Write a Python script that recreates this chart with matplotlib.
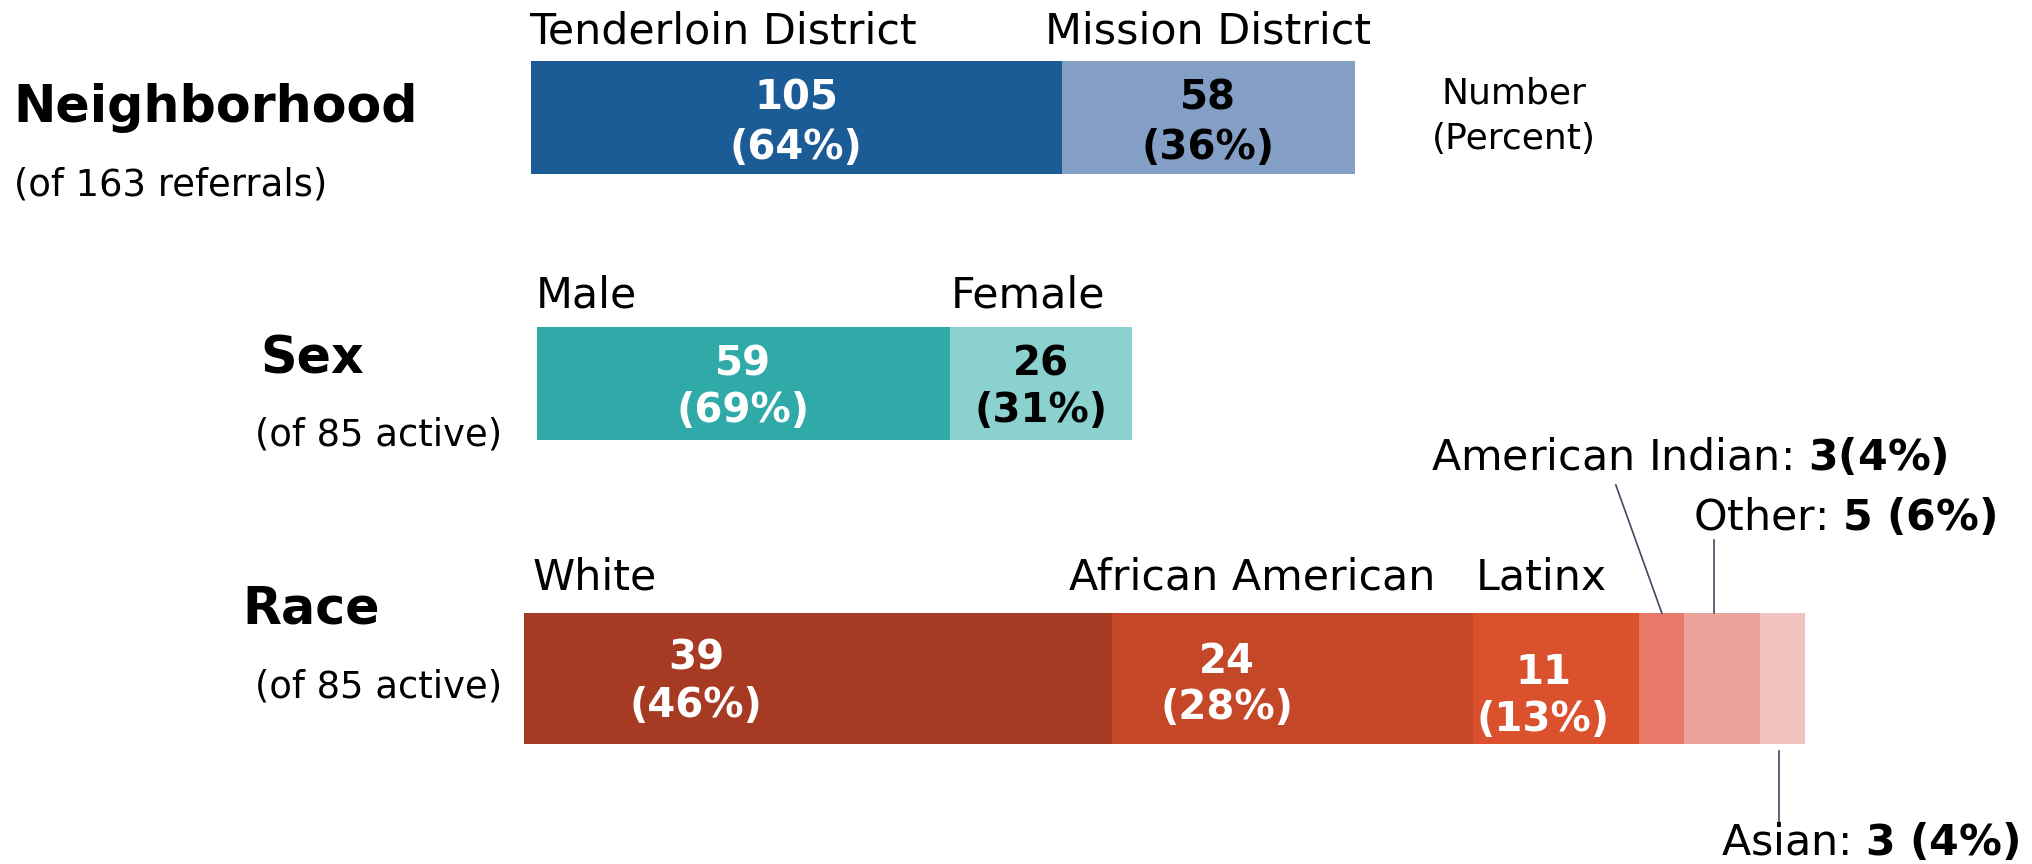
import numpy as np
import matplotlib.pyplot as plt
from matplotlib import transforms
from matplotlib.lines import Line2D

### data ###
hood_labels = ['Tenderloin District', 'Mission District']
hood_counts = [105, 58]
sex_labels = ['Male', 'Female']
sex_counts = [59, 26]
race_labels = ['White', 'African American', 'Latinx', 'American Indian', 'Other', 'Asian']
race_counts = [39, 24, 11, 3, 5, 3]
#====================

### layout / style ###
W, H = 2033, 864
plt.rcParams['font.family'] = ['DejaVu Sans']
plt.rcParams['mathtext.fontset'] = 'dejavusans'

hood_colors = ['#1b5c97', '#839fc5']
sex_colors = ['#30aaa8', '#8bd1d0']
race_colors = ['#a63a22', '#c44828', '#dc512d', '#e87868', '#eca39a', '#f2c2be']
line_color = '#3c4a5e'

TITLE_FS = 36.5
SUB_FS = 26.6
LAB_FS = 30.8
VAL_FS = 29
#====================

def fy(py):
    # pixel row from top -> figure fraction
    return 1 - py / H

def make_bar(fig, left, top, right, bottom, counts, colors):
    ax = fig.add_axes([left / W, fy(bottom), (right - left) / W, (bottom - top) / H])
    cum = np.concatenate([[0], np.cumsum(counts)[:-1]])
    ax.barh(0.5, counts, left=cum, height=1, color=colors, edgecolor='none')
    ax.set_xlim(0, sum(counts))
    ax.set_ylim(0, 1)
    ax.axis('off')
    return ax, cum

def seg_text(fig, ax, x, py, s, dx=0, **kw):
    trans = transforms.blended_transform_factory(ax.transData, fig.transFigure)
    trans = transforms.offset_copy(trans, fig=fig, x=dx, y=0, units='dots')
    ax.text(x, fy(py), s, transform=trans, clip_on=False, **kw)

def draw_group(fig, box, labels, counts, colors, txt_colors, lab_dx, val_dx, val_dy, lab_y, n_inside):
    left, top, right, bottom = box
    ax, cum = make_bar(fig, left, top, right, bottom, counts, colors)
    total = sum(counts)
    for i in range(n_inside):
        seg_text(fig, ax, cum[i], lab_y, labels[i], dx=lab_dx[i], fontsize=LAB_FS, ha='left', va='baseline')
        xc = cum[i] + counts[i] / 2
        pct = int(round(100 * counts[i] / total))
        seg_text(fig, ax, xc, top + val_dy[i][0], str(counts[i]), dx=val_dx[i], fontsize=VAL_FS,
                 fontweight='bold', color=txt_colors[i], ha='center', va='baseline')
        seg_text(fig, ax, xc, top + val_dy[i][1], '(%d%%)' % pct, dx=val_dx[i], fontsize=VAL_FS,
                 fontweight='bold', color=txt_colors[i], ha='center', va='baseline')
    return ax, cum

fig = plt.figure(figsize=(W / 100, H / 100), dpi=100)

# neighborhood
draw_group(fig, (531, 61, 1355, 174), hood_labels, hood_counts, hood_colors, ['white', 'black'],
           [-2, -17], [0, 0], [(48, 98), (48, 98)], 43, 2)
fig.text(13 / W, fy(122), 'Neighborhood', fontsize=TITLE_FS, fontweight='bold', va='baseline')
fig.text(14 / W, fy(195), '(of 163 referrals)', fontsize=SUB_FS, va='baseline')
fig.text(1514 / W, fy(103), 'Number', fontsize=26, ha='center', va='baseline')
fig.text(1514 / W, fy(149), '(Percent)', fontsize=26, ha='center', va='baseline')

# sex
draw_group(fig, (537, 327, 1132, 440), sex_labels, sex_counts, sex_colors, ['white', 'black'],
           [-1, 1], [0, 0], [(49, 95), (49, 95)], 307, 2)
fig.text(260 / W, fy(373), 'Sex', fontsize=TITLE_FS, fontweight='bold', va='baseline')
fig.text(502 / W, fy(446), '(of 85 active)', fontsize=SUB_FS, ha='right', va='baseline')

# race
race_total = sum(race_counts)
ax, cum = draw_group(fig, (524, 613, 1805, 744), race_labels, race_counts, race_colors,
                     ['white'] * 3, [9, -43, 2], [-122, -66, -13],
                     [(56, 104), (60, 106), (71, 118)], 590, 3)
fig.text(242 / W, fy(623), 'Race', fontsize=TITLE_FS, fontweight='bold', va='baseline')
fig.text(502 / W, fy(698), '(of 85 active)', fontsize=SUB_FS, ha='right', va='baseline')

# callouts for the small race segments
centers = [ax.transData.transform((cum[i] + race_counts[i] / 2, 0))[0] for i in range(len(race_counts))]
pcts = [int(round(100 * c / race_total)) for c in race_counts]
leaders = {3: ((-46, 485), (0, 613)), 4: ((-8, 540), (-8, 613)), 5: ((-3, 751), (-3, 823))}
for i, ((dx0, y0), (dx1, y1)) in leaders.items():
    xc = centers[i]
    fig.add_artist(Line2D([(xc + dx0) / W, (xc + dx1) / W], [fy(y0), fy(y1)],
                          color=line_color, lw=1.2, transform=fig.transFigure))

fig.text(1431 / W, fy(470), race_labels[3] + r': $\mathbf{%d(%d\%%)}$' % (race_counts[3], pcts[3]),
         fontsize=LAB_FS, va='baseline')
fig.text(1693 / W, fy(530), race_labels[4] + r': $\mathbf{%d\ (%d\%%)}$' % (race_counts[4], pcts[4]),
         fontsize=LAB_FS, va='baseline')
fig.text(1721 / W, fy(855), race_labels[5] + r': $\mathbf{%d\ (%d\%%)}$' % (race_counts[5], pcts[5]),
         fontsize=LAB_FS, va='baseline')

fig.savefig('out.png', dpi=100, facecolor='white')
